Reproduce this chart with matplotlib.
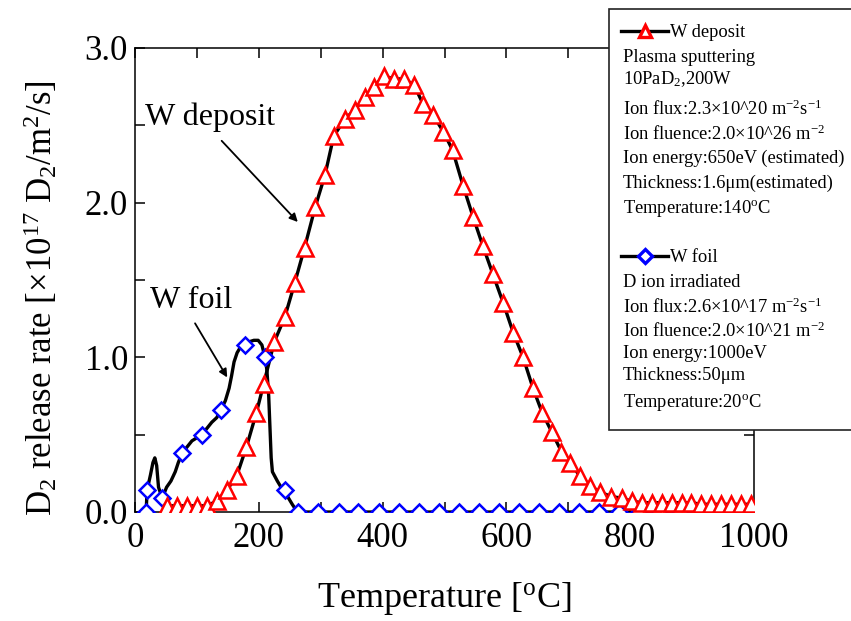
import matplotlib
matplotlib.use("Agg")
import matplotlib.pyplot as plt
from matplotlib.lines import Line2D
from matplotlib.patches import Rectangle
from matplotlib.ticker import MultipleLocator

plt.rcParams["font.family"] = ["Liberation Serif", "DejaVu Serif"]
plt.rcParams["mathtext.fontset"] = "custom"
plt.rcParams["mathtext.rm"] = "Liberation Serif"
plt.rcParams["mathtext.it"] = "Liberation Serif:italic"
plt.rcParams["mathtext.bf"] = "Liberation Serif:bold"

# TDS spectra: D2 release rate in units of 1e17 D2/m^2/s vs temperature (degC)
deposit_T = [51, 68, 84, 100, 116, 132, 148, 164, 180, 196, 208, 225, 242, 258,
             274, 291, 307, 321, 339, 355, 371, 386, 402, 418, 435, 451, 465,
             481, 498, 513, 530, 546, 562, 578, 595, 611, 627, 643, 658, 673,
             689, 703, 719, 735, 751, 769, 786, 803, 819, 835, 851, 867, 883,
             899, 915, 931, 947, 963, 979, 995]
deposit_rate = [0.04, 0.04, 0.04, 0.04, 0.04, 0.07, 0.14, 0.23, 0.42, 0.64,
                0.83, 1.10, 1.26, 1.48, 1.71, 1.97, 2.18, 2.43, 2.54, 2.60,
                2.68, 2.75, 2.82, 2.80, 2.80, 2.76, 2.64, 2.57, 2.46, 2.34,
                2.11, 1.91, 1.72, 1.54, 1.35, 1.16, 1.00, 0.80, 0.64, 0.52,
                0.39, 0.32, 0.23, 0.17, 0.13, 0.10, 0.09, 0.07, 0.06, 0.06,
                0.06, 0.06, 0.06, 0.06, 0.05, 0.05, 0.05, 0.05, 0.05, 0.05]

foil_T = [18, 19.5, 25, 29, 32, 35, 38, 44, 51, 58, 65, 70, 76, 84, 92, 100,
          108, 116, 124, 132, 139, 146, 152, 156, 160, 165, 171, 177, 184, 192,
          199, 205, 210, 213, 216, 218, 220, 222, 226, 230, 236, 242, 248, 254,
          259, 264, 296, 329, 361, 394, 426, 458, 491, 523, 556, 588, 620, 653,
          685, 718, 750, 782, 815, 847, 880, 912, 944, 977, 1000]
foil_rate = [0.00, 0.14, 0.24, 0.32, 0.35, 0.30, 0.16, 0.09, 0.16, 0.20, 0.26,
             0.32, 0.38, 0.42, 0.46, 0.48, 0.50, 0.54, 0.58, 0.61, 0.66, 0.72,
             0.80, 0.88, 0.97, 1.03, 1.07, 1.08, 1.10, 1.11, 1.11, 1.08, 1.00,
             0.92, 0.75, 0.55, 0.35, 0.26, 0.23, 0.20, 0.16, 0.14, 0.09, 0.05,
             0.02, 0.00, 0, 0, 0, 0, 0, 0, 0, 0, 0, 0, 0, 0, 0, 0, 0, 0, 0, 0,
             0, 0, 0, 0, 0]
# temperatures that carry a diamond symbol
foil_symbol_T = [18, 19.5, 44, 76, 108, 139, 177, 210, 242, 264, 296, 329, 361,
                 394, 426, 458, 491, 523, 556, 588, 620, 653, 685, 718, 750, 782,
                 815, 847, 880, 912, 944, 977]

deposit_notes = ["Plasma sputtering",
                 r"10PaD$_2$,200W",
                 r"Ion flux:2.3×10^20 m$^{-2}$s$^{-1}$",
                 r"Ion fluence:2.0×10^26 m$^{-2}$",
                 "Ion energy:650eV (estimated)",
                 "Thickness:1.6μm(estimated)",
                 r"Temperature:140$^{\mathrm{o}}$C"]
foil_notes = ["D ion irradiated",
              r"Ion flux:2.6×10^17 m$^{-2}$s$^{-1}$",
              r"Ion fluence:2.0×10^21 m$^{-2}$",
              "Ion energy:1000eV",
              "Thickness:50μm",
              r"Temperature:20$^{\mathrm{o}}$C"]

W, H = 851, 621
fig = plt.figure(figsize=(W / 100, H / 100), dpi=100)
ax = fig.add_axes([135 / W, 1 - 512 / H, (754 - 135) / W, (512 - 48) / H])

# black traces first, open symbols on top
ax.plot(deposit_T, deposit_rate, color="black", lw=2.4, zorder=2)
ax.plot(foil_T, foil_rate, color="black", lw=2.4, zorder=2)
foil_idx = [foil_T.index(t) for t in foil_symbol_T]
ax.plot(foil_T, foil_rate, ls="none", marker="D", ms=8.5, mfc="white",
        mec="#0000ff", mew=1.8, markevery=foil_idx, zorder=3)
ax.plot(deposit_T, deposit_rate, ls="none", marker="^", ms=11, mfc="white",
        mec="#ff0000", mew=1.8, zorder=4)

ax.set_xlim(0, 1000)
ax.set_ylim(0, 3.0)
ax.xaxis.set_major_locator(MultipleLocator(200))
ax.xaxis.set_minor_locator(MultipleLocator(100))
ax.yaxis.set_major_locator(MultipleLocator(1.0))
ax.yaxis.set_minor_locator(MultipleLocator(0.5))
ax.yaxis.set_major_formatter(plt.FormatStrFormatter("%.1f"))
ax.tick_params(which="both", direction="in", length=7, width=1.1,
               top=True, right=True)
ax.tick_params(axis="x", labelsize=25, pad=7)
ax.tick_params(axis="y", labelsize=25, pad=5)
for sp in ax.spines.values():
    sp.set_linewidth(1.1)

ax.set_xlabel(r"Temperature [$^{\mathrm{o}}$C]", fontsize=26)
ax.xaxis.set_label_coords(0.5, -0.147)
ax.set_ylabel(r"D$_2$ release rate [×10$^{17}$ D$_2$/m$^2$/s]", fontsize=25)
ax.yaxis.set_label_coords(-0.122, 0.46)

# peak labels with pointers
ax.text(16, 2.50, "W deposit", fontsize=23)
ax.annotate("", xy=(263, 1.875), xytext=(140, 2.40),
            arrowprops=dict(arrowstyle="-|>", color="black", lw=1.3,
                            mutation_scale=12, shrinkA=0, shrinkB=0))
ax.text(24, 1.32, "W foil", fontsize=23)
ax.annotate("", xy=(149, 0.87), xytext=(97, 1.22),
            arrowprops=dict(arrowstyle="-|>", color="black", lw=1.3,
                            mutation_scale=12, shrinkA=0, shrinkB=0))

# legend panel, running off the right edge
fx = lambda px: px / W
fy = lambda py: 1 - py / H
fig.add_artist(Rectangle((fx(609), fy(430)), fx(400), (430 - 9) / H,
                         transform=fig.transFigure, facecolor="white",
                         edgecolor="#222222", lw=1.2, zorder=5))
NOTE_SIZE = 13.3


def legend_entry(py, marker, color, ms, label):
    fig.add_artist(Line2D([fx(621), fx(668)], [fy(py), fy(py)],
                          transform=fig.transFigure, color="black", lw=2.4,
                          zorder=6))
    fig.add_artist(Line2D([fx(645)], [fy(py)], transform=fig.transFigure,
                          ls="none", marker=marker, ms=ms, mfc="white",
                          mec=color, mew=2.4, zorder=7))
    fig.text(fx(670), fy(py + 6), label, fontsize=NOTE_SIZE, zorder=7)


legend_entry(31, "^", "#ff0000", 9, "W deposit")
for py, line in zip([62, 84, 115, 140, 163, 188, 213], deposit_notes):
    fig.text(fx(623), fy(py), line, fontsize=NOTE_SIZE, zorder=7)

legend_entry(256, "D", "#0000ff", 7, "W foil")
for py, line in zip([287, 313, 337, 358, 380, 407], foil_notes):
    fig.text(fx(623), fy(py), line, fontsize=NOTE_SIZE, zorder=7)

fig.savefig("out.png", dpi=100)
